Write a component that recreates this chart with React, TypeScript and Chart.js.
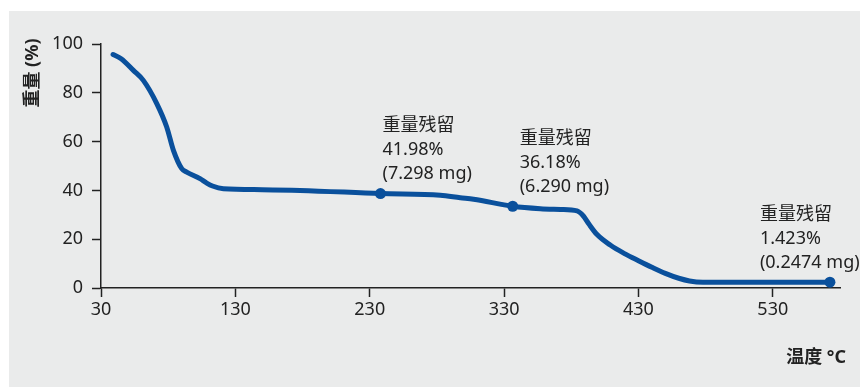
import React, { useEffect, useRef } from "react";
import { Chart, registerables } from "chart.js";

Chart.register(...registerables);

const temps = [39, 45, 54.1, 61.5, 71.5, 78.9, 83.9, 90.1, 93.8, 103.7, 108.7, 113, 121.1, 150, 178.2, 238, 282.5, 297.4, 307.3, 336.4, 357, 372, 384.3, 389, 393, 399, 409, 420, 430, 440, 450, 460, 468, 478, 572.5];
const weights = [95.7, 94.0, 89.2, 85.1, 75.6, 66.0, 56.4, 48.9, 47.5, 44.8, 43.0, 41.8, 40.7, 40.3, 40.0, 38.7, 38.0, 37.0, 36.4, 33.5, 32.5, 32.2, 31.6, 29.5, 26.3, 22.0, 17.6, 14.0, 11.2, 8.5, 6.0, 4.0, 2.9, 2.4, 2.4];

const markerTemps = [238, 336.4, 572.5];
const markerWeights = [38.7, 33.5, 2.4];
const markerLabels = [
  ["重量残留", "41.98%", "(7.298 mg)"],
  ["重量残留", "36.18%", "(6.290 mg)"],
  ["重量残留", "1.423%", "(0.2474 mg)"],
];
const labelOffsets = [
  { dx: 2, dy: -68 },
  { dx: 7, dy: -67 },
  { dx: -70, dy: -67 },
];

const xTicks = [30, 130, 230, 330, 430, 530];
const yTicks = [0, 20, 40, 60, 80, 100];
const xTitle = "温度 °C";
const yTitle = "重量 (%)";

const FONT = "'Noto Sans', 'Noto Sans CJK SC', sans-serif";
const BLUE = "#0a509c";
const INK = "#222222";

export default function App() {
  const ref = useRef<HTMLCanvasElement | null>(null);
  useEffect(() => {
    if (!ref.current) return;
    const bgPlugin = {
      id: "bg",
      beforeDraw(chart: any) {
        const c = chart.ctx;
        c.save();
        c.fillStyle = "#ffffff";
        c.fillRect(0, 0, chart.width, chart.height);
        c.fillStyle = "#eaebeb";
        c.fillRect(9, 11, chart.width - 9, chart.height - 11);
        c.restore();
      },
      afterDraw(chart: any) {
        const c = chart.ctx;
        const xs = chart.scales.x;
        const ys = chart.scales.y;
        c.save();
        c.fillStyle = INK;
        c.textBaseline = "middle";
        c.textAlign = "left";
        c.font = `18px ${FONT}`;
        markerTemps.forEach((t, i) => {
          const px = xs.getPixelForValue(t);
          const py = ys.getPixelForValue(markerWeights[i]);
          const o = labelOffsets[i];
          markerLabels[i].forEach((line, j) => {
            c.fillText(line, px + o.dx, py + o.dy + j * 24);
          });
        });
        c.font = `bold 18px ${FONT}`;
        c.textAlign = "right";
        c.fillText(xTitle, 846, 358);
        c.translate(33, 73);
        c.rotate(-Math.PI / 2);
        c.textAlign = "center";
        c.fillText(yTitle, 0, 0);
        c.restore();
      },
    };
    const chart = new Chart(ref.current, {
      type: "line",
      data: {
        datasets: [
          {
            data: temps.map((t, i) => ({ x: t, y: weights[i] })),
            borderColor: BLUE,
            borderWidth: 5,
            pointRadius: 0,
            cubicInterpolationMode: "monotone",
            borderCapStyle: "round",
            borderJoinStyle: "round",
            fill: false,
          },
          {
            data: markerTemps.map((t, i) => ({ x: t, y: markerWeights[i] })),
            borderColor: BLUE,
            backgroundColor: BLUE,
            showLine: false,
            pointRadius: 5.5,
            pointBorderWidth: 0,
          },
        ],
      },
      plugins: [bgPlugin],
      options: {
        animation: false,
        responsive: false,
        devicePixelRatio: 1,
        layout: { padding: { top: 44, right: 20, left: 0, bottom: 0 } },
        plugins: { legend: { display: false }, tooltip: { enabled: false } },
        scales: {
          x: {
            type: "linear",
            min: 30,
            max: 580,
            afterBuildTicks: (s: any) => {
              s.ticks = xTicks.map((v) => ({ value: v }));
            },
            afterFit: (s: any) => {
              s.height = 99;
            },
            grid: { display: true, drawOnChartArea: false, drawTicks: true, tickLength: 9, tickColor: INK, tickWidth: 1.5 },
            border: { display: true, color: INK, width: 1.5 },
            ticks: { color: INK, padding: 2, maxRotation: 0, font: { family: FONT, size: 18 } },
          },
          y: {
            min: 0,
            max: 100,
            afterBuildTicks: (s: any) => {
              s.ticks = yTicks.map((v) => ({ value: v }));
            },
            afterFit: (s: any) => {
              s.width = 101;
            },
            grid: { display: true, drawOnChartArea: false, drawTicks: true, tickLength: 9, tickColor: INK, tickWidth: 1.5 },
            border: { display: true, color: INK, width: 1.5 },
            ticks: { color: INK, padding: 9, font: { family: FONT, size: 18 } },
          },
        },
      },
    } as any);
    return () => chart.destroy();
  }, []);
  return (
    <div style={{ position: "fixed", left: 0, top: 0, width: 860, height: 387 }}>
      <canvas ref={ref} width={860} height={387} style={{ display: "block" }} />
    </div>
  );
}
